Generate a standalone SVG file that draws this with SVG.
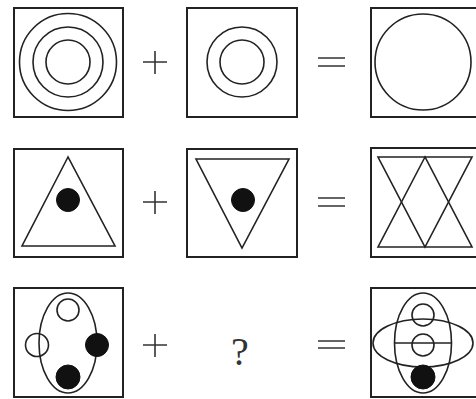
<svg xmlns="http://www.w3.org/2000/svg" width="476" height="399" viewBox="0 0 476 399">
<style>
.box{fill:none;stroke:#222;stroke-width:2}
.ln{fill:none;stroke:#222;stroke-width:1.6}
.dot{fill:#111;stroke:#111;stroke-width:1}
.op{fill:none;stroke:#333;stroke-width:1.6}
.q{font-family:"Liberation Serif",serif;font-size:40px;fill:#333}
</style>
<rect width="476" height="399" fill="#fff"/>
<g id="r1a">
<rect class="box" x="14" y="8" width="109" height="109"/>
<circle class="ln" cx="68" cy="62" r="48.5"/>
<circle class="ln" cx="68" cy="62" r="35"/>
<circle class="ln" cx="68" cy="62" r="22"/>
</g>
<g id="r1b">
<rect class="box" x="187" y="8" width="110" height="109"/>
<circle class="ln" cx="242" cy="62" r="35"/>
<circle class="ln" cx="242" cy="62" r="22"/>
</g>
<g id="r1c">
<rect class="box" x="371" y="8" width="110" height="109"/>
<circle class="ln" cx="423" cy="62" r="48"/>
</g>
<g id="r2a">
<rect class="box" x="14" y="149" width="109" height="108"/>
<polygon class="ln" points="68,157 22,246 115,246"/>
<circle class="dot" cx="68" cy="200" r="11.5"/>
</g>
<g id="r2b">
<rect class="box" x="187" y="149" width="110" height="108"/>
<polygon class="ln" points="196,159 289,159 242,248"/>
<circle class="dot" cx="243" cy="200" r="11.5"/>
</g>
<g id="r2c">
<rect class="box" x="371" y="148" width="110" height="109"/>
<polygon class="ln" points="425,157 378,247 472,247"/>
<polygon class="ln" points="378,157 472,157 425,247"/>
</g>
<g id="r3a">
<rect class="box" x="14" y="288" width="109" height="109"/>
<ellipse class="ln" cx="68" cy="343" rx="29" ry="50"/>
<circle class="ln" cx="68" cy="310" r="11"/>
<circle class="ln" cx="37" cy="345" r="11.5"/>
<circle class="dot" cx="97" cy="345" r="11.5"/>
<circle class="dot" cx="68" cy="377" r="12"/>
</g>
<g id="r3c">
<rect class="box" x="371" y="288" width="110" height="109"/>
<ellipse class="ln" cx="423" cy="343" rx="28.5" ry="50"/>
<ellipse class="ln" cx="423" cy="343" rx="50" ry="24"/>
<line class="ln" x1="395" y1="343" x2="451" y2="343"/>
<circle class="ln" cx="423" cy="315" r="11"/>
<circle class="ln" cx="423" cy="345" r="11"/>
<circle class="dot" cx="423" cy="377" r="12"/>
</g>
<g id="ops">
<path class="op" d="M143,62H167M155,51V74"/>
<path class="op" d="M318,58H345M318,66H345"/>
<path class="op" d="M143,202H167M155,191V214"/>
<path class="op" d="M318,198H345M318,206H345"/>
<path class="op" d="M143,345H167M155,334V357"/>
<path class="op" d="M318,341H345M318,348H345"/>
<text class="q" x="240" y="365" text-anchor="middle">?</text>
</g>
</svg>
